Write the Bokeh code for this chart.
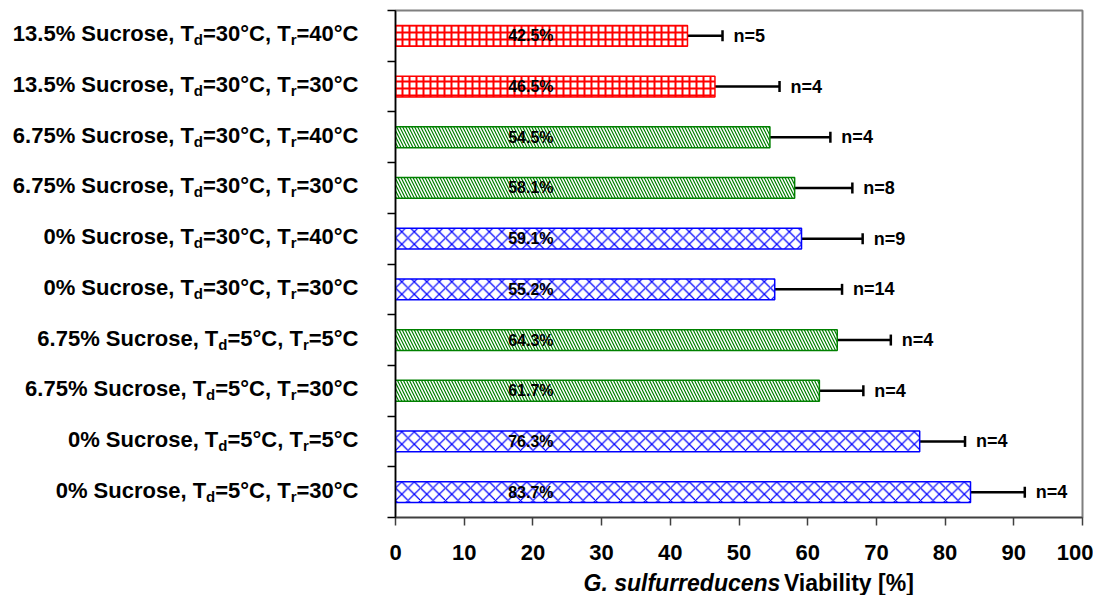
from bokeh.plotting import figure
from bokeh.layouts import row, column
from bokeh.models import ColumnDataSource, Range1d, FixedTicker, Whisker, TeeHead
from bokeh.core.properties import value
from bokeh.embed import file_html
from bokeh.resources import INLINE

# ---- data (top row first) ----
sucrose = ["13.5%", "13.5%", "6.75%", "6.75%", "0%", "0%", "6.75%", "6.75%", "0%", "0%"]
t_dry = ["30", "30", "30", "30", "30", "30", "5", "5", "5", "5"]
t_rehyd = ["40", "30", "40", "30", "40", "30", "5", "30", "5", "30"]
viability = [42.5, 46.5, 54.5, 58.1, 59.1, 55.2, 64.3, 61.7, 76.3, 83.7]
error = [5.1, 9.4, 8.8, 8.4, 8.9, 9.8, 7.8, 6.4, 6.6, 7.9]
n_samples = [5, 4, 4, 8, 9, 14, 4, 4, 4, 4]
x_ticks = [0, 10, 20, 30, 40, 50, 60, 70, 80, 90, 100]
title_parts = ["G. sulfurreducens", "Viability [%]"]

# ---- layout / styles ----
FONT = "Liberation Sans"
TOTAL_W, TOTAL_H = 1093, 595
LABEL_W = 370            # width of the category-label panel
FRAME_TOP, FRAME_BOTTOM, FRAME_RIGHT_PAD = 10, 517, 11
MAIN_H = 570
TITLE_H = TOTAL_H - MAIN_H
MAIN_W = TOTAL_W - LABEL_W
AXIS_PAD = 25            # room for the y ticks
STYLE = {
    "13.5%": ("#FF0000", "+", 7, 2.0),
    "6.75%": ("#008000", "\\", 6, 1.2),
    "0%": ("#0000FF", "x", 12.5, 1.2),
}
N = len(viability)
ys = [N - i - 0.5 for i in range(N)]
y_range = Range1d(0, N)

src = ColumnDataSource(dict(
    y=ys,
    v=viability,
    lo=[v - e for v, e in zip(viability, error)],
    hi=[v + e for v, e in zip(viability, error)],
    color=[STYLE[s][0] for s in sucrose],
    hatch=[STYLE[s][1] for s in sucrose],
    hscale=[STYLE[s][2] for s in sucrose],
    hweight=[STYLE[s][3] for s in sucrose],
    pct=[f"{v:.1f}%" for v in viability],
    ntxt=[f"n={n}" for n in n_samples],
))

# ---- main chart ----
p = figure(width=MAIN_W, height=MAIN_H, x_range=Range1d(0, 100), y_range=y_range,
           output_backend="svg", toolbar_location=None,
           min_border_left=AXIS_PAD, min_border_right=FRAME_RIGHT_PAD,
           min_border_top=FRAME_TOP, min_border_bottom=MAIN_H - FRAME_BOTTOM)
p.background_fill_color = "white"
p.border_fill_color = "white"
p.outline_line_color = "#7f7f7f"
p.outline_line_width = 2
p.xgrid.visible = False
p.ygrid.visible = False

p.hbar(y="y", left=0, right="v", height=0.41, source=src,
       fill_color="white", line_color="color", line_width=1.5,
       hatch_pattern="hatch", hatch_color="color", hatch_scale="hscale", hatch_weight="hweight")

p.add_layout(Whisker(source=src, base="y", lower="lo", upper="hi", dimension="width",
                     line_color="black", line_width=2.5,
                     upper_head=TeeHead(size=11, line_width=2.5, line_color="black"),
                     lower_head=TeeHead(size=11, line_width=2.5, line_color="black")))

p.text(x=19.7, y="y", text="pct", source=src, text_align="center", text_baseline="middle",
       text_font=value(FONT), text_font_style="bold", text_font_size="16px", text_color="black")
p.text(x="hi", y="y", text="ntxt", source=src, x_offset=11, text_align="left", text_baseline="middle",
       text_font=value(FONT), text_font_style="bold", text_font_size="18px", text_color="black")

xa = p.xaxis[0]
xa.ticker = FixedTicker(ticks=x_ticks)
xa.major_label_text_font = FONT
xa.major_label_text_font_style = "bold"
xa.major_label_text_font_size = "22px"
xa.major_label_text_color = "black"
xa.major_label_standoff = 19
xa.major_tick_out = 8
xa.major_tick_in = 0
xa.minor_tick_out = 0
xa.minor_tick_in = 0
xa.axis_line_color = "#404040"
xa.axis_line_width = 1.5
xa.major_tick_line_color = "#404040"
xa.major_tick_line_width = 1.5

ya = p.yaxis[0]
y_bounds = list(range(N + 1))
ya.ticker = FixedTicker(ticks=y_bounds)
ya.major_label_overrides = {b: "" for b in y_bounds}
ya.major_tick_out = 8
ya.major_tick_in = 0
ya.minor_tick_out = 0
ya.minor_tick_in = 0
ya.axis_line_color = "black"
ya.axis_line_width = 1.5
ya.major_tick_line_color = "black"
ya.major_tick_line_width = 1.5

# ---- category labels with subscripts (Liberation Sans Bold advance widths) ----
ADV = {" ": 278, "%": 889, ",": 278, ".": 278, "=": 584, "°": 400, "C": 722, "S": 667, "T": 611,
       "c": 556, "d": 611, "e": 556, "o": 611, "r": 389, "s": 556, "u": 611, "G": 778, "l": 278,
       "f": 333, "n": 611, "V": 667, "i": 278, "a": 556, "b": 611, "t": 333, "y": 556,
       "[": 333, "]": 333}
for dch in "0123456789":
    ADV[dch] = 556


def tw(s, size):
    return sum(ADV[c] for c in s) * size / 1000.0


MAIN_FS, SUB_FS = 22, 15
LABEL_RIGHT = LABEL_W - 12   # right edge of the label text, in panel pixels
pc = dict(text=[], y=[], xo=[], yo=[], fs=[])
for i in range(N):
    pieces = [(f"{sucrose[i]} Sucrose, T", MAIN_FS), ("d", SUB_FS), (f"={t_dry[i]}°C, T", MAIN_FS),
              ("r", SUB_FS), (f"={t_rehyd[i]}°C", MAIN_FS)]
    total = sum(tw(t, s) for t, s in pieces)
    xo = -total
    for t, s in pieces:
        pc["text"].append(t)
        pc["y"].append(ys[i])
        pc["xo"].append(xo)
        pc["yo"].append(-2 if s == MAIN_FS else 4)
        pc["fs"].append(f"{s}px")
        xo += tw(t, s)

lf = figure(width=LABEL_W, height=TOTAL_H, x_range=Range1d(0, LABEL_W), y_range=y_range,
            output_backend="svg", toolbar_location=None, x_axis_type=None, y_axis_type=None,
            min_border_left=0, min_border_right=0, min_border_top=FRAME_TOP,
            min_border_bottom=TOTAL_H - FRAME_BOTTOM)
lf.outline_line_color = None
lf.xgrid.visible = False
lf.ygrid.visible = False
lf.text(x=LABEL_RIGHT, y="y", text="text", x_offset="xo", y_offset="yo", text_font_size="fs",
        source=ColumnDataSource(pc), text_font=value(FONT), text_font_style="bold",
        text_align="left", text_baseline="alphabetic", text_color="black")

# ---- x axis title: italic species name + bold text ----
TS, GAP = 23, 14
w1, w2 = tw(title_parts[0], TS), tw(title_parts[1], TS)
cx = AXIS_PAD + (MAIN_W - AXIS_PAD - FRAME_RIGHT_PAD) / 2
start = cx - (w1 + GAP + w2) / 2
tf = figure(width=MAIN_W, height=TITLE_H, x_range=Range1d(0, MAIN_W), y_range=Range1d(0, TITLE_H),
            output_backend="svg", toolbar_location=None, x_axis_type=None, y_axis_type=None,
            min_border=0)
tf.outline_line_color = None
tf.xgrid.visible = False
tf.ygrid.visible = False
ty = TITLE_H / 2
tf.text(x=[start, start + w1 + GAP], y=[ty, ty], text=title_parts,
        text_font_style=["bold italic", "bold"], text_font=value(FONT), text_font_size=f"{TS}px",
        text_align="left", text_baseline="middle", text_color="black")

layout = row(lf, column(p, tf))
open("out.html", "w").write(file_html(layout, INLINE))
